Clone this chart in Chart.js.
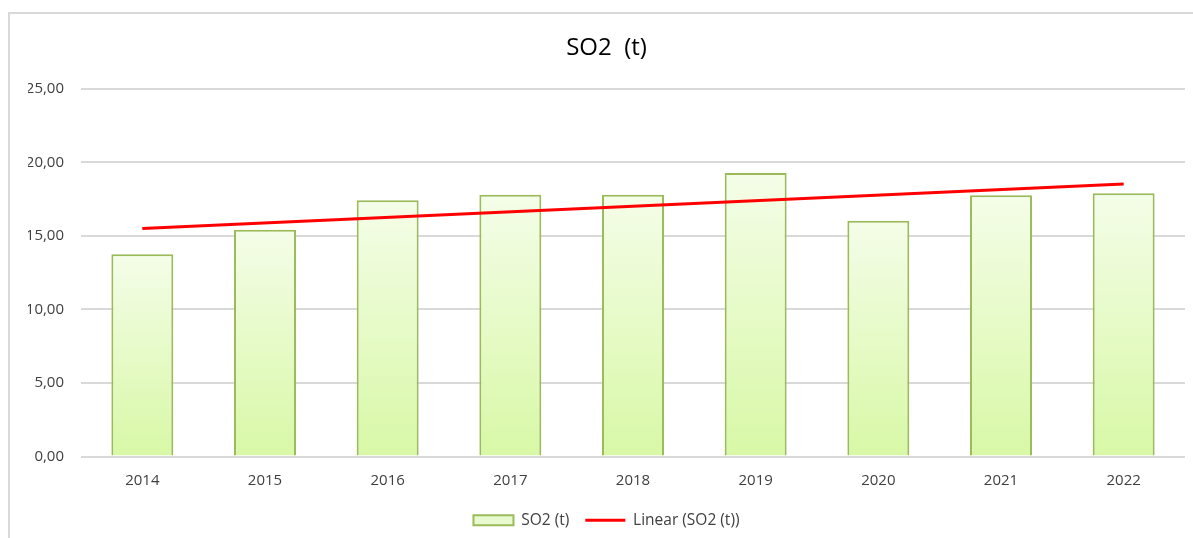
<!DOCTYPE html>
<html>
<head>
<meta charset="utf-8">
<script src="https://cdn.jsdelivr.net/npm/chart.js@4/dist/chart.umd.min.js"></script>
<style>
    body { margin: 0; background: #fff; }
    .frame {
        position: absolute; left: 8px; top: 12px; width: 1200px; height: 600px;
        border: 2px solid #d9d9d9; box-sizing: border-box;
    }
    .wrap { position: absolute; left: 0; top: 0; width: 1193px; height: 538px; }
</style>
</head>
<body>
<div class="frame"></div>
<div class="wrap"><canvas id="chart" width="1193" height="538"></canvas></div>
<script>
const years = ['2014', '2015', '2016', '2017', '2018', '2019', '2020', '2021', '2022'];
const so2 = [13.75, 15.41, 17.42, 17.79, 17.79, 19.28, 16.03, 17.76, 17.9];
// trendline: start and end only
const trend = [15.5, null, null, null, null, null, null, null, 18.53];

const fontName = "'Open Sans', 'Liberation Sans', sans-serif";
const textColor = '#404040';

function barFill(ctx) {
    const chart = ctx.chart;
    if (!chart.chartArea || ctx.raw == null) return '#e6f9c8';
    const y = chart.scales.y;
    const top = y.getPixelForValue(ctx.raw);
    const bottom = y.getPixelForValue(0);
    const g = chart.ctx.createLinearGradient(0, top, 0, bottom);
    g.addColorStop(0, '#f4fde8');
    g.addColorStop(1, '#d8f8a6');
    return g;
}

new Chart(document.getElementById('chart'), {
    data: {
        labels: years,
        datasets: [{
            type: 'bar',
            label: 'SO2 (t)',
            data: so2,
            backgroundColor: barFill,
            borderColor: '#9bbb59',
            borderWidth: 2,
            barPercentage: 0.505,
            categoryPercentage: 1,
            order: 2
        }, {
            type: 'line',
            label: 'Linear (SO2 (t))',
            data: trend,
            borderColor: '#ff0000',
            borderWidth: 3,
            pointRadius: 0,
            spanGaps: true,
            order: 1
        }]
    },
    options: {
        responsive: false,
        animation: false,
        layout: { padding: { left: 28, right: 8, top: 0, bottom: 0 } },
        plugins: {
            title: {
                display: true,
                text: 'SO2  (t)',
                color: '#000',
                font: { family: fontName, size: 24, weight: 'normal' },
                padding: { top: 34, bottom: 26 }
            },
            legend: {
                position: 'bottom',
                labels: {
                    usePointStyle: true,
                    pointStyleWidth: 40,
                    boxHeight: 10,
                    padding: 16,
                    color: textColor,
                    font: { family: fontName, size: 15.5 },
                    generateLabels(chart) {
                        const items = Chart.defaults.plugins.legend.labels.generateLabels(chart);
                        items.sort((a, b) => a.datasetIndex - b.datasetIndex);
                        items[0].pointStyle = 'rect';
                        items[0].fillStyle = '#e8fad0';
                        items[0].strokeStyle = '#9bbb59';
                        items[0].lineWidth = 2;
                        items[1].pointStyle = 'line';
                        items[1].strokeStyle = '#ff0000';
                        items[1].lineWidth = 3;
                        return items;
                    }
                }
            },
            tooltip: { enabled: false }
        },
        scales: {
            x: {
                grid: { display: false },
                border: { display: false },
                ticks: { color: textColor, font: { family: fontName, size: 15 }, padding: 7 },
                afterFit(scale) { scale.height = 40; }
            },
            y: {
                min: 0,
                max: 25,
                border: { display: false },
                grid: { color: '#d9d9d9', lineWidth: 2, drawTicks: false },
                ticks: {
                    stepSize: 5,
                    color: textColor,
                    font: { family: fontName, size: 15 },
                    padding: 17,
                    callback: v => v.toFixed(2).replace('.', ',')
                },
                afterFit(scale) { scale.width = 53; }
            }
        }
    }
});
</script>
</body>
</html>
